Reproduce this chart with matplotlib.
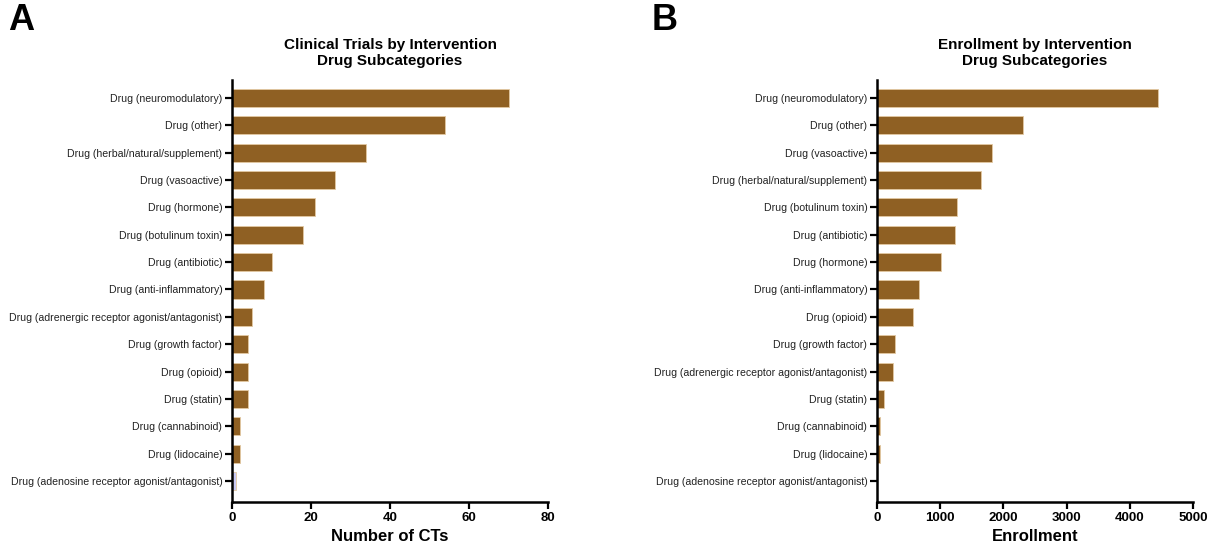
import matplotlib
matplotlib.use("Agg")
import matplotlib.pyplot as plt

plt.rcParams['font.family'] = ['Liberation Sans', 'DejaVu Sans']

# Panel A: number of clinical trials per drug subcategory
ct_labels = [
    "Drug (neuromodulatory)", "Drug (other)", "Drug (herbal/natural/supplement)",
    "Drug (vasoactive)", "Drug (hormone)", "Drug (botulinum toxin)",
    "Drug (antibiotic)", "Drug (anti-inflammatory)",
    "Drug (adrenergic receptor agonist/antagonist)", "Drug (growth factor)",
    "Drug (opioid)", "Drug (statin)", "Drug (cannabinoid)", "Drug (lidocaine)",
    "Drug (adenosine receptor agonist/antagonist)",
]
ct_counts = [70, 54, 34, 26, 21, 18, 10, 8, 5, 4, 4, 4, 2, 2, 1]

# Panel B: enrollment per drug subcategory
enr_labels = [
    "Drug (neuromodulatory)", "Drug (other)", "Drug (vasoactive)",
    "Drug (herbal/natural/supplement)", "Drug (botulinum toxin)",
    "Drug (antibiotic)", "Drug (hormone)", "Drug (anti-inflammatory)",
    "Drug (opioid)", "Drug (growth factor)",
    "Drug (adrenergic receptor agonist/antagonist)", "Drug (statin)",
    "Drug (cannabinoid)", "Drug (lidocaine)",
    "Drug (adenosine receptor agonist/antagonist)",
]
enr_values = [4450, 2315, 1825, 1650, 1265, 1235, 1010, 665, 570, 285, 255, 110, 42, 40, 0]

BAR = '#8F6023'
EDGE = '#e3c9a3'

W, H = 1223, 550
fig = plt.figure(figsize=(W / 100, H / 100), dpi=100)


def panel(rect, labels, values, xmax, xstep, title, xlabel, colors):
    ax = fig.add_axes(rect)
    y = list(range(len(labels)))
    ax.barh(y, values, height=0.66, color=colors, edgecolor=EDGE, linewidth=0.6)
    ax.set_ylim(len(labels) - 1 + 0.77, -0.66)
    ax.set_xlim(0, xmax)
    ax.set_xticks(list(range(0, xmax + 1, xstep)))
    ax.set_yticks(y)
    ax.set_yticklabels(labels, fontsize=7.6, color='#222222')
    for lab in ax.get_xticklabels():
        lab.set_fontweight('bold')
        lab.set_fontsize(9.5)
    for s in ('top', 'right'):
        ax.spines[s].set_visible(False)
    for s in ('left', 'bottom'):
        ax.spines[s].set_linewidth(1.8)
    ax.tick_params(axis='both', width=1.6, length=5, direction='out', pad=2)
    ax.set_xlabel(xlabel, fontsize=12, fontweight='bold', labelpad=4)
    ax.set_title(title, fontsize=11, fontweight='bold', pad=11, linespacing=1.2)
    return ax


def px(l, t, r, b):
    return [l / W, 1 - b / H, (r - l) / W, (b - t) / H]


ct_colors = [BAR] * (len(ct_counts) - 1) + ['#c9c9f2']
panel(px(232, 80, 548, 502), ct_labels, ct_counts, 80, 20,
      "Clinical Trials by Intervention\nDrug Subcategories", "Number of CTs", ct_colors)
panel(px(877, 80, 1193, 502), enr_labels, enr_values, 5000, 1000,
      "Enrollment by Intervention\nDrug Subcategories", "Enrollment", [BAR] * len(enr_values))

fig.text(8 / W, 1 - 20 / H, "A", fontsize=26, fontweight='bold', va='center', ha='left')
fig.text(652 / W, 1 - 20 / H, "B", fontsize=26, fontweight='bold', va='center', ha='left')

fig.savefig("out.png", dpi=100)
